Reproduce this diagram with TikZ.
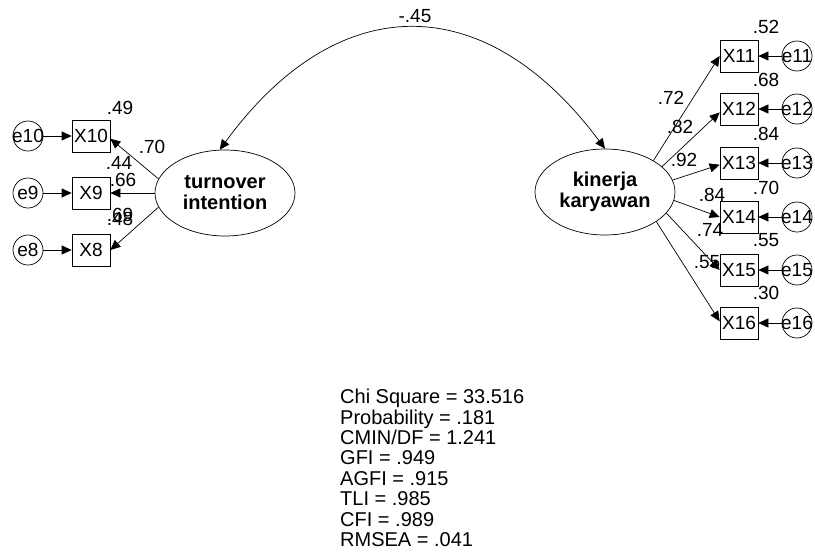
\documentclass[tikz,border=0pt]{standalone}
\usepackage{fontspec}
\setmainfont{Liberation Sans}
\usetikzlibrary{arrows.meta,shapes.geometric}
\begin{document}
\begin{tikzpicture}[x=1pt,y=-1pt,
  every node/.style={font=\fontsize{19}{20}\selectfont},
  obs/.style={draw,rectangle,minimum width=38pt,minimum height=32pt,inner sep=0pt,line width=0.7pt},
  err/.style={draw,circle,minimum size=30pt,inner sep=0pt,line width=0.7pt},
  lat/.style={draw,ellipse,minimum width=140pt,minimum height=86pt,inner sep=0pt,align=center,line width=0.7pt,
    font=\fontsize{20}{21}\selectfont\bfseries},
  lbl/.style={inner sep=0pt},
  arr/.style={-{Triangle[length=10pt,width=9pt]},line width=0.7pt},
  biarr/.style={{Triangle[length=10pt,width=9pt]}-{Triangle[length=10pt,width=9pt]},line width=0.7pt}]
\useasboundingbox (0,0) rectangle (815,552);

% latent variables
\node[lat] (turn) at (225,193) {turnover\\intention};
\node[lat] (kin) at (605,192) {kinerja\\karyawan};

% left indicators
\node[obs] (X10) at (91,136) {X10};
\node[obs] (X9) at (91,193) {X9};
\node[obs] (X8) at (91,250) {X8};
\node[err] (e10) at (28,136) {\makebox[0pt]{e10}};
\node[err] (e9) at (28,193) {\makebox[0pt]{e9}};
\node[err] (e8) at (28,250) {\makebox[0pt]{e8}};

% right indicators
\node[obs] (X11) at (739,56) {X11};
\node[obs] (X12) at (739,109) {X12};
\node[obs] (X13) at (739,163) {X13};
\node[obs] (X14) at (739,217) {X14};
\node[obs] (X15) at (739,270) {X15};
\node[obs] (X16) at (739,323) {X16};
\node[err] (e11) at (797,56) {\makebox[0pt]{e11}};
\node[err] (e12) at (797,109) {\makebox[0pt]{e12}};
\node[err] (e13) at (797,163) {\makebox[0pt]{e13}};
\node[err] (e14) at (797,217) {\makebox[0pt]{e14}};
\node[err] (e15) at (797,270) {\makebox[0pt]{e15}};
\node[err] (e16) at (797,323) {\makebox[0pt]{e16}};

% error arrows
\foreach \e/\x in {e10/X10,e9/X9,e8/X8,e11/X11,e12/X12,e13/X13,e14/X14,e15/X15,e16/X16}
  \draw[arr] (\e) -- (\x);

% loadings
\draw[arr] (turn.168) -- (X10.-8);
\draw[arr] (turn.180) -- (X9.east);
\draw[arr] (turn.192) -- (X8.east);
\draw[arr] (kin.33) -- (X11.west);
\draw[arr] (kin.24) -- (X12.190);
\draw[arr] (kin.10) -- (X13.185);
\draw[arr] (kin.-7) -- (X14.west);
\draw[arr] (kin.-19) -- (X15.west);
\draw[arr] (kin.-30) -- (X16.175);

% covariance
\draw[biarr] (turn.97) .. controls (338,-12) and (485,-12) .. (kin.north);
\node[lbl] (cov) at (415,16) {-.45};

% left labels
\node[lbl] (r10) at (120,108) {.49};
\node[lbl] (l10) at (152,147) {.70};
\node[lbl] (r9) at (119,163) {.44};
\node[lbl] (l9) at (123,180) {.66};
\node[lbl] (l8) at (120,215) {.69};
\node[lbl] (r8) at (120,219) {.48};

% right labels
\node[lbl] (r11) at (766,27) {.52};
\node[lbl] (r12) at (766,80) {.68};
\node[lbl] (r13) at (766,134) {.84};
\node[lbl] (r14) at (766,188) {.70};
\node[lbl] (r15) at (766,240) {.55};
\node[lbl] (r16) at (766,293) {.30};
\node[lbl] (l11) at (671,98) {.72};
\node[lbl] (l12) at (680,127) {.82};
\node[lbl] (l13) at (684,160) {.92};
\node[lbl] (l14) at (712,195) {.84};
\node[lbl] (l15) at (710,230) {.74};
\node[lbl] (l16) at (707,262) {.55};

% fit statistics
\node[lbl,anchor=north west,align=left,font=\fontsize{20}{20.4}\selectfont] (fit) at (340,389)
 {Chi Square = 33.516\\Probability = .181\\CMIN/DF = 1.241\\GFI = .949\\AGFI = .915\\TLI = .985\\CFI = .989\\RMSEA = .041};
\end{tikzpicture}
\end{document}
